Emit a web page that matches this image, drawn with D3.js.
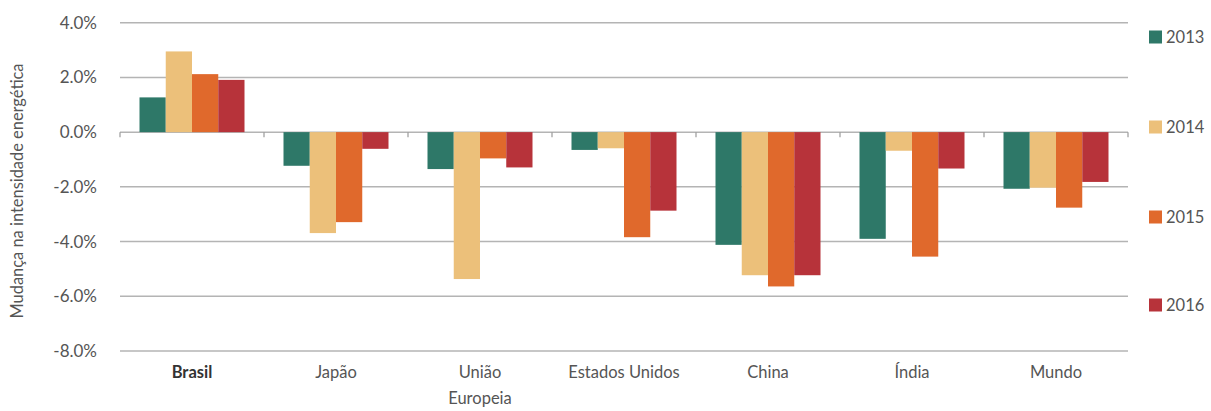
<!DOCTYPE html>
<html><head><meta charset="utf-8">
<script src="https://cdn.jsdelivr.net/npm/d3@7"></script>
<style>body{margin:0;background:#fff}svg{display:block}text{font-family:Lato,"Open Sans",sans-serif}</style>
</head><body><svg id="c" width="1211" height="411"></svg>
<script>
const categories = ["Brasil","Japão","União Europeia","Estados Unidos","China","Índia","Mundo"];
const years = ["2013","2014","2015","2016"];
const v2013 = [1.27,-1.23,-1.35,-0.65,-4.12,-3.90,-2.07];
const v2014 = [2.95,-3.69,-5.37,-0.59,-5.23,-0.68,-2.03];
const v2015 = [2.12,-3.29,-0.96,-3.84,-5.64,-4.55,-2.76];
const v2016 = [1.91,-0.61,-1.29,-2.87,-5.23,-1.33,-1.82];
const yTicks = [4,2,0,-2,-4,-6,-8];
const colors = ["#2e7868","#ecc07a","#e0692c","#b7333a"];
const series = [v2013,v2014,v2015,v2016];

const svg = d3.select("#c");
const x0 = d3.scaleBand().domain(categories).range([120,1128]).padding(0);
const x1 = d3.scaleBand().domain(years).range([0,105]).padding(0);
const y = d3.scaleLinear().domain([-8,4]).range([351,22.7]);

// grid
svg.append("g").selectAll("line").data(yTicks).join("line")
  .attr("x1",120).attr("x2",1128).attr("y1",d=>y(d)).attr("y2",d=>y(d))
  .attr("stroke","#b4b4b4").attr("stroke-width",1.5);
// y labels
svg.append("g").selectAll("text").data(yTicks).join("text")
  .attr("x",97).attr("y",d=>y(d)).attr("dy","0.35em").attr("text-anchor","end")
  .attr("font-size",17).attr("fill","#555")
  .text(d=>d.toFixed(1).replace("\u2212","-")+"%");
// y title
svg.append("text").attr("transform","translate(23,191) rotate(-90)")
  .attr("text-anchor","middle").attr("font-size",16.5).attr("fill","#555")
  .attr("textLength",255).attr("lengthAdjust","spacingAndGlyphs")
  .text("Mudança na intensidade energética");

// bars
const g = svg.append("g");
categories.forEach((c,i)=>{
  const off = x0(c) + (x0.bandwidth()-105)/2;
  series.forEach((s,j)=>{
    const v = s[i];
    g.append("rect").attr("x",off + x1(years[j])).attr("width",x1.bandwidth())
      .attr("y",y(Math.max(0,v))).attr("height",Math.abs(y(v)-y(0)))
      .attr("fill",colors[j]);
  });
});

// zero axis ticks
const bounds = categories.map(c=>x0(c)).concat([1128]);
svg.append("g").selectAll("line").data(bounds).join("line")
  .attr("x1",d=>d).attr("x2",d=>d).attr("y1",y(0)).attr("y2",y(0)+5)
  .attr("stroke","#999").attr("stroke-width",1.2);

// x labels
categories.forEach((c,i)=>{
  const cx = x0(c)+x0.bandwidth()/2;
  const t = svg.append("text").attr("x",cx).attr("y",378).attr("text-anchor","middle")
    .attr("font-size",16.5).attr("fill", i===0?"#333":"#555")
    .attr("font-weight", i===0?"bold":"normal");
  if(c==="União Europeia"){
    t.append("tspan").attr("x",cx).text("União");
    t.append("tspan").attr("x",cx).attr("dy",26).text("Europeia");
  } else t.text(c);
});

// legend
const ly = [37,127,217,305];
years.forEach((yr,j)=>{
  svg.append("rect").attr("x",1149).attr("y",ly[j]-6.5).attr("width",13).attr("height",13).attr("fill",colors[j]);
  svg.append("text").attr("x",1166).attr("y",ly[j]).attr("dy","0.35em")
    .attr("font-size",16.5).attr("fill","#555").text(yr);
});
</script></body></html>
